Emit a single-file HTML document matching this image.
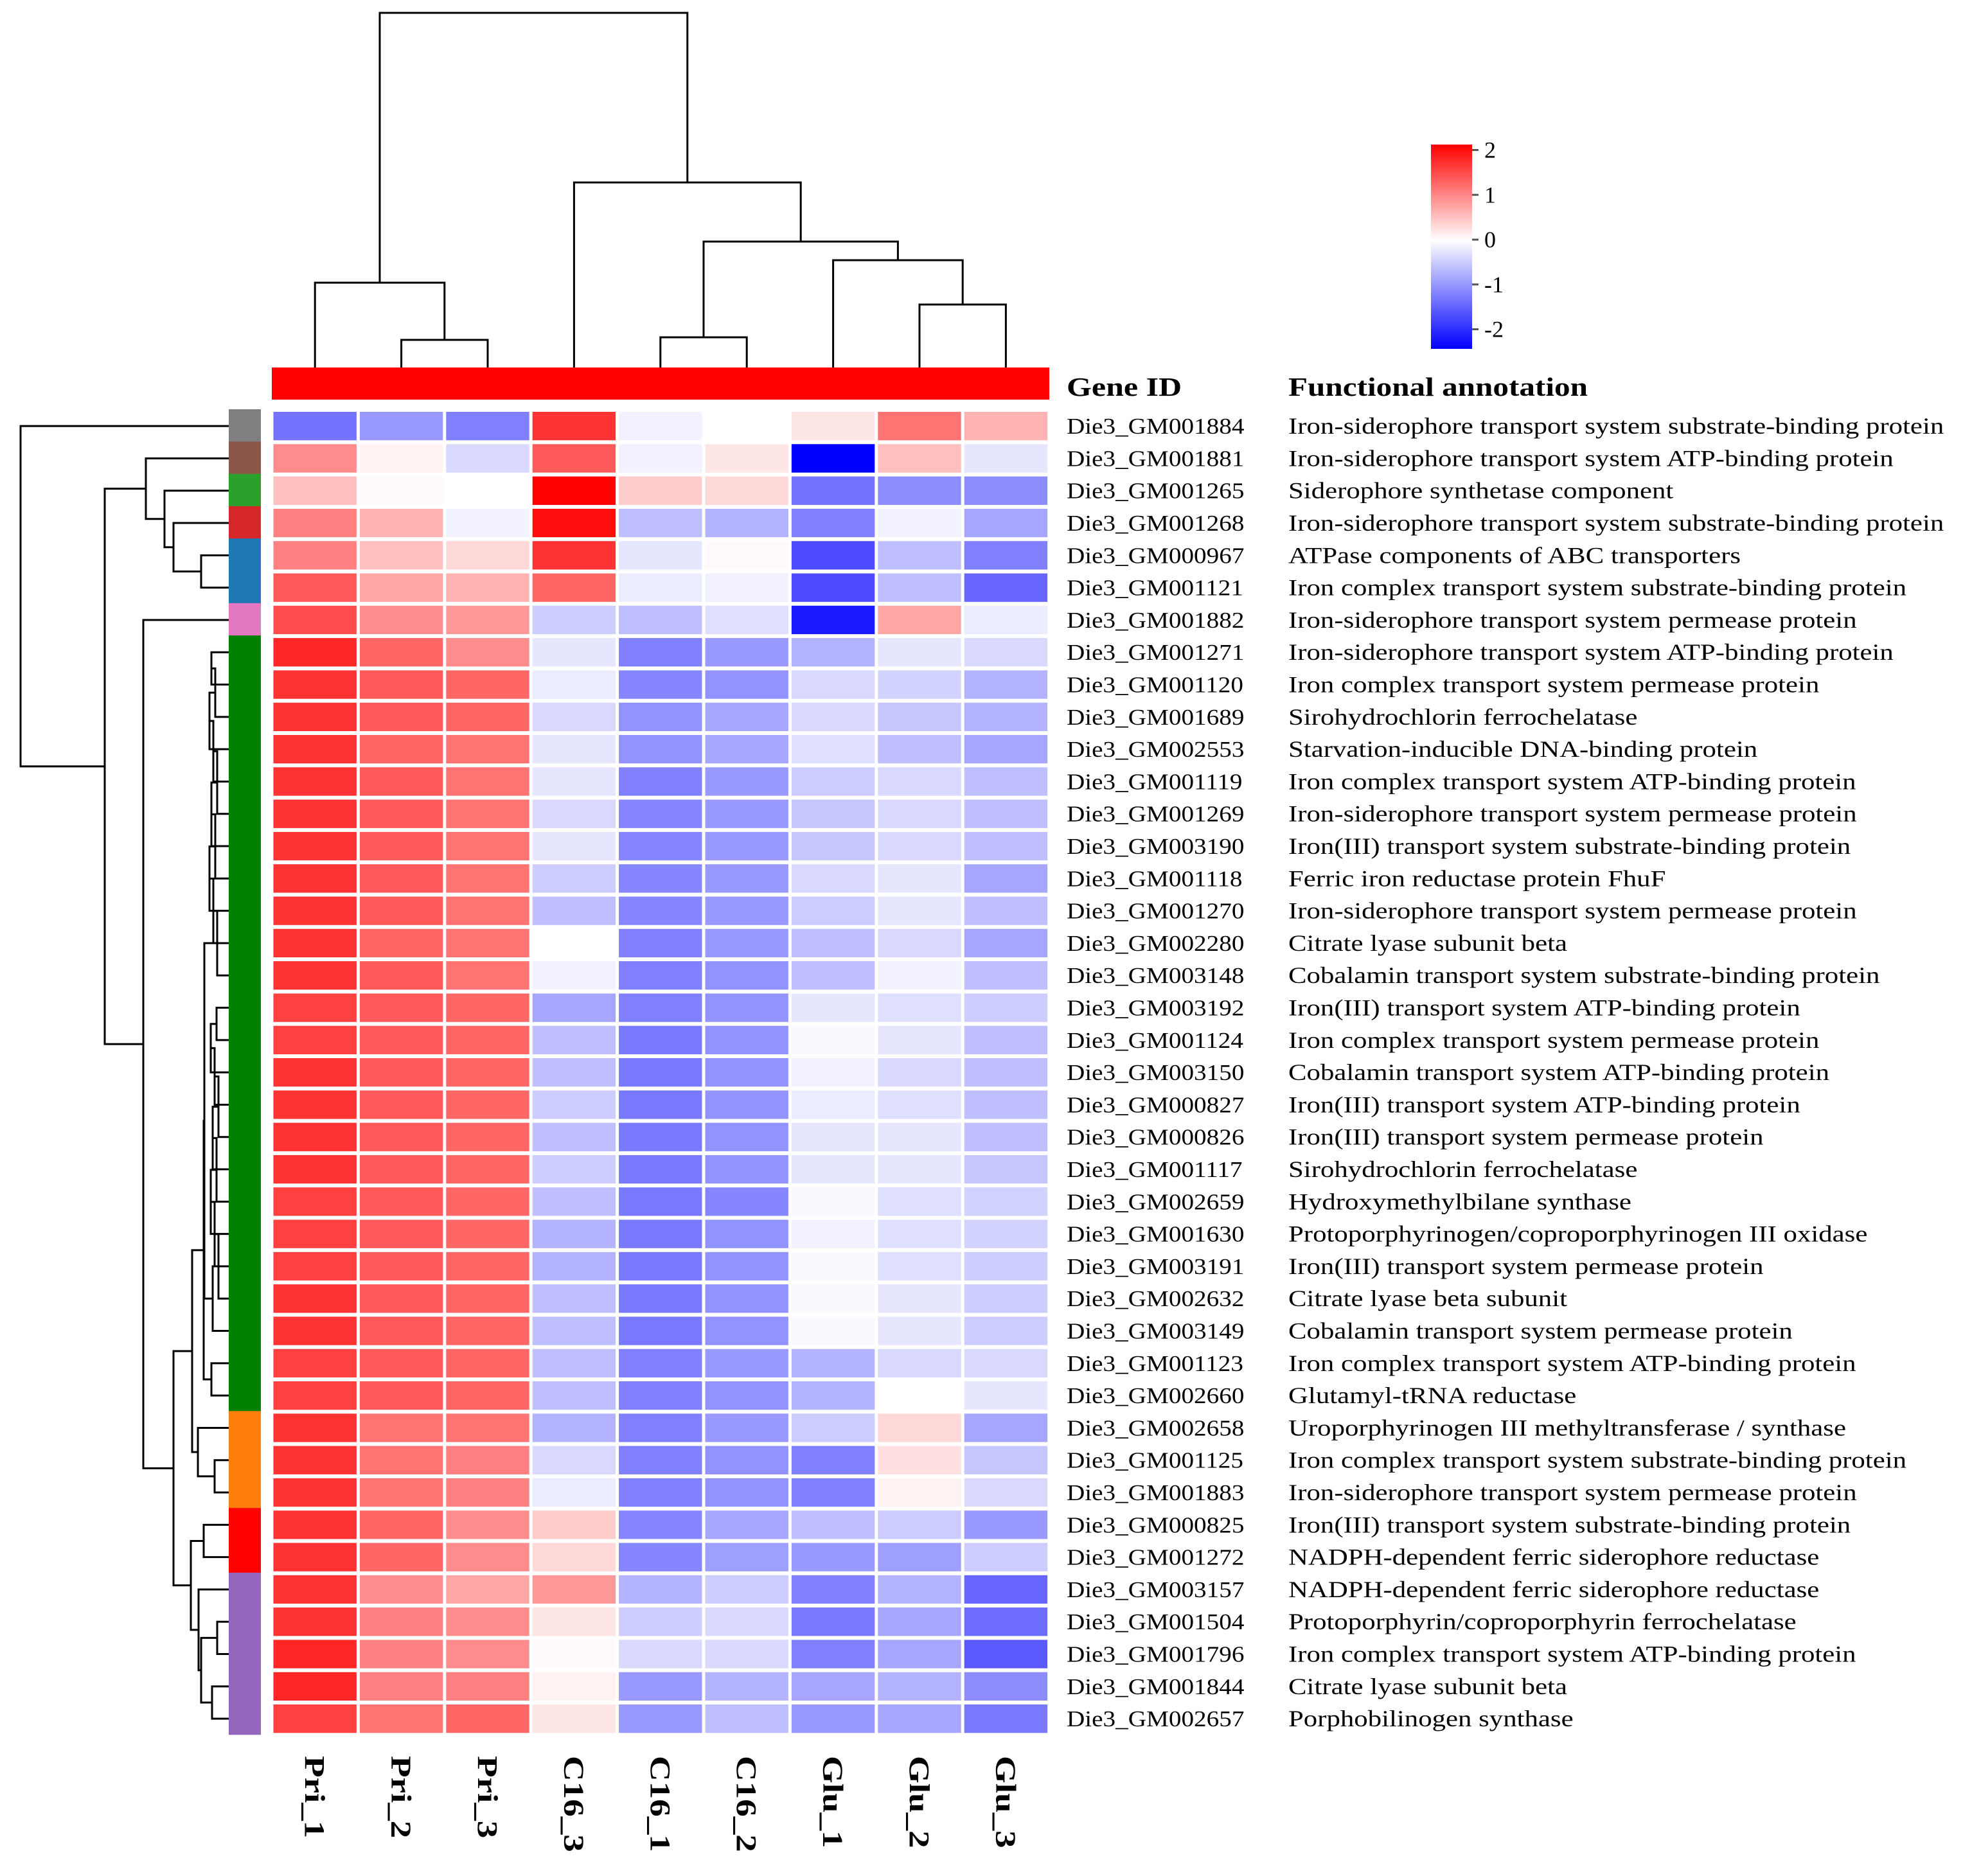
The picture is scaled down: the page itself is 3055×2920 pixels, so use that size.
<!DOCTYPE html>
<html><head><meta charset="utf-8"><style>
html,body{margin:0;padding:0;background:#fff}
svg{display:block}
text{font-family:"Liberation Serif",serif;fill:#000}
</style></head><body>
<svg id="chart" width="3055" height="2920" viewBox="0 0 3055 2920" xmlns="http://www.w3.org/2000/svg">
<g id="dendroTop"></g>
<g id="dendroLeft"></g>
<rect x="423" y="572" width="1210" height="50" fill="#ff0000"/>
<g id="strip"></g>
<g id="cells"></g>
<g id="rowlabels" transform="translate(1660,0) scale(1.12,1) translate(-1660,0)"></g>
<g id="annlabels" transform="translate(2005,0) scale(1.19,1) translate(-2005,0)"></g>
<g id="collabels"></g>
<g transform="translate(1660,0) scale(1.22,1) translate(-1660,0)"><text x="1660" y="616" font-size="41" font-weight="bold">Gene ID</text></g>
<g transform="translate(2005,0) scale(1.2,1) translate(-2005,0)"><text x="2005" y="616" font-size="41" font-weight="bold">Functional annotation</text></g>
<defs><linearGradient id="cbg" x1="0" y1="0" x2="0" y2="1">
<stop offset="0" stop-color="#ff0000"/><stop offset="0.47" stop-color="#ffffff"/><stop offset="1" stop-color="#0000ff"/></linearGradient></defs>
<g>
<rect x="2227" y="225" width="64" height="318" fill="url(#cbg)"/>
<g id="cbticks"></g>
</g>
</svg>
<script>
const columns = ["Pri_1","Pri_2","Pri_3","C16_3","C16_1","C16_2","Glu_1","Glu_2","Glu_3"];
const genes = ["Die3_GM001884","Die3_GM001881","Die3_GM001265","Die3_GM001268","Die3_GM000967","Die3_GM001121","Die3_GM001882","Die3_GM001271","Die3_GM001120","Die3_GM001689","Die3_GM002553","Die3_GM001119","Die3_GM001269","Die3_GM003190","Die3_GM001118","Die3_GM001270","Die3_GM002280","Die3_GM003148","Die3_GM003192","Die3_GM001124","Die3_GM003150","Die3_GM000827","Die3_GM000826","Die3_GM001117","Die3_GM002659","Die3_GM001630","Die3_GM003191","Die3_GM002632","Die3_GM003149","Die3_GM001123","Die3_GM002660","Die3_GM002658","Die3_GM001125","Die3_GM001883","Die3_GM000825","Die3_GM001272","Die3_GM003157","Die3_GM001504","Die3_GM001796","Die3_GM001844","Die3_GM002657"];
const annotations = ["Iron-siderophore transport system substrate-binding protein","Iron-siderophore transport system ATP-binding protein","Siderophore synthetase component","Iron-siderophore transport system substrate-binding protein","ATPase components of ABC transporters","Iron complex transport system substrate-binding protein","Iron-siderophore transport system permease protein","Iron-siderophore transport system ATP-binding protein","Iron complex transport system permease protein","Sirohydrochlorin ferrochelatase","Starvation-inducible DNA-binding protein","Iron complex transport system ATP-binding protein","Iron-siderophore transport system permease protein","Iron(III) transport system substrate-binding protein","Ferric iron reductase protein FhuF","Iron-siderophore transport system permease protein","Citrate lyase subunit beta","Cobalamin transport system substrate-binding protein","Iron(III) transport system ATP-binding protein","Iron complex transport system permease protein","Cobalamin transport system ATP-binding protein","Iron(III) transport system ATP-binding protein","Iron(III) transport system permease protein","Sirohydrochlorin ferrochelatase","Hydroxymethylbilane synthase","Protoporphyrinogen/coproporphyrinogen III oxidase","Iron(III) transport system permease protein","Citrate lyase beta subunit","Cobalamin transport system permease protein","Iron complex transport system ATP-binding protein","Glutamyl-tRNA reductase","Uroporphyrinogen III methyltransferase / synthase","Iron complex transport system substrate-binding protein","Iron-siderophore transport system permease protein","Iron(III) transport system substrate-binding protein","NADPH-dependent ferric siderophore reductase","NADPH-dependent ferric siderophore reductase","Protoporphyrin/coproporphyrin ferrochelatase","Iron complex transport system ATP-binding protein","Citrate lyase subunit beta","Porphobilinogen synthase"];
const values = [
[-1.1,-0.8,-1.0,1.6,-0.1,0,0.2,1.1,0.6],
[0.9,0.1,-0.3,1.3,-0.1,0.2,-2.2,0.5,-0.2],
[0.5,0.05,0,2.0,0.4,0.3,-1.1,-0.9,-0.9],
[1.0,0.6,-0.1,1.9,-0.5,-0.6,-1.0,-0.1,-0.7],
[1.0,0.5,0.3,1.6,-0.2,0.05,-1.4,-0.5,-1.0],
[1.3,0.7,0.6,1.2,-0.15,-0.1,-1.4,-0.5,-1.2],
[1.4,0.9,0.8,-0.4,-0.5,-0.25,-1.8,0.7,-0.15],
[1.7,1.2,0.9,-0.2,-1.0,-0.8,-0.6,-0.2,-0.3],
[1.6,1.3,1.2,-0.15,-0.95,-0.85,-0.3,-0.35,-0.6],
[1.6,1.3,1.2,-0.3,-0.85,-0.7,-0.3,-0.45,-0.6],
[1.6,1.2,1.1,-0.2,-0.85,-0.7,-0.25,-0.5,-0.7],
[1.6,1.3,1.1,-0.2,-1.0,-0.8,-0.4,-0.3,-0.5],
[1.6,1.3,1.1,-0.3,-0.95,-0.8,-0.45,-0.3,-0.5],
[1.6,1.3,1.1,-0.2,-0.95,-0.8,-0.45,-0.3,-0.5],
[1.6,1.3,1.1,-0.4,-0.95,-0.8,-0.3,-0.2,-0.7],
[1.6,1.3,1.1,-0.5,-0.95,-0.8,-0.4,-0.2,-0.5],
[1.6,1.2,1.1,0,-1.0,-0.8,-0.5,-0.3,-0.7],
[1.6,1.3,1.1,-0.1,-1.0,-0.85,-0.5,-0.1,-0.5],
[1.5,1.3,1.2,-0.7,-1.0,-0.85,-0.2,-0.25,-0.4],
[1.5,1.3,1.2,-0.5,-1.05,-0.85,-0.05,-0.2,-0.5],
[1.6,1.3,1.2,-0.5,-1.05,-0.85,-0.1,-0.3,-0.5],
[1.6,1.3,1.2,-0.4,-1.05,-0.85,-0.15,-0.25,-0.5],
[1.6,1.3,1.2,-0.5,-1.05,-0.85,-0.2,-0.2,-0.5],
[1.6,1.3,1.2,-0.4,-1.05,-0.85,-0.2,-0.2,-0.45],
[1.5,1.3,1.2,-0.5,-1.05,-0.95,-0.05,-0.25,-0.35],
[1.5,1.3,1.2,-0.6,-1.05,-0.85,-0.1,-0.25,-0.35],
[1.5,1.3,1.2,-0.6,-1.05,-0.85,-0.05,-0.25,-0.4],
[1.6,1.3,1.2,-0.5,-1.05,-0.85,-0.05,-0.2,-0.4],
[1.6,1.3,1.2,-0.5,-1.05,-0.85,-0.05,-0.2,-0.4],
[1.5,1.3,1.2,-0.5,-1.0,-0.8,-0.6,-0.3,-0.3],
[1.5,1.3,1.2,-0.5,-1.0,-0.85,-0.6,0,-0.2],
[1.6,1.1,1.1,-0.6,-1.0,-0.8,-0.4,0.3,-0.7],
[1.6,1.1,1.0,-0.3,-1.0,-0.85,-1.0,0.25,-0.45],
[1.6,1.1,1.0,-0.15,-1.0,-0.85,-1.0,0.1,-0.3],
[1.6,1.2,0.9,0.4,-0.95,-0.7,-0.5,-0.4,-0.8],
[1.6,1.2,0.9,0.3,-0.95,-0.75,-0.8,-0.75,-0.4],
[1.6,0.9,0.7,0.8,-0.6,-0.4,-1.0,-0.6,-1.2],
[1.6,1.0,0.9,0.2,-0.4,-0.3,-1.05,-0.7,-1.15],
[1.7,1.0,0.9,0.05,-0.3,-0.3,-1.0,-0.7,-1.3],
[1.7,1.0,1.0,0.1,-0.8,-0.6,-0.7,-0.6,-0.9],
[1.5,1.1,1.2,0.2,-0.8,-0.5,-0.8,-0.7,-1.05]];
const clusterColors = ["#7f7f7f","#8c564b","#2ca02c","#d62728","#1f77b4","#1f77b4","#e377c2"].concat(Array(24).fill("#008000"),Array(3).fill("#ff7f0e"),Array(2).fill("#ff0000"),Array(5).fill("#9467bd"));
const cbTicks = [2,1,0,-1,-2];
// dendrogram trees: [height, left, right], leaves = index
const colTree = [20,[440,0,[529,1,2]],[284,3,[376,[525,4,5],[405,6,[474,7,8]]]]];
function chain(a,b,h){let t=a;for(let i=a+1;i<=b;i++){t=[h+((i*7)%5)*3,t,i];}return t;}
const rowTree = [32,0,[163,[227,1,[256,2,[270,3,[313,4,5]]]],[223,6,[270,
  [299,[317,[318,chain(7,17,326),chain(18,28,328)],[329,29,30]],[308,31,[334,32,33]]],
  [297,[317,34,35],[309,36,[313,[338,37,38],[330,39,40]]]]]]]];

const NS="http://www.w3.org/2000/svg";
const X0=423, Y0=638, CW=134.4, RH=50.3;
const xScale=i=>X0+i*CW, yScale=j=>Y0+j*RH;
const cbY=v=>373-v*69.75;
function color(v){const t=Math.min(1,Math.abs(v)/2);const c=Math.round(255*(1-t));return v>=0?`rgb(255,${c},${c})`:`rgb(${c},${c},255)`;}
function mk(tag,attrs,parent){const e=document.createElementNS(NS,tag);for(const k in attrs)e.setAttribute(k,attrs[k]);parent.appendChild(e);return e;}

const cells=document.getElementById('cells');
values.forEach((row,j)=>row.forEach((v,i)=>{
  const r=mk('rect',{x:xScale(i)+2.5,y:yScale(j)+3,width:CW-5,height:RH-6,fill:color(v)},cells);
  
  
}));
const strip=document.getElementById('strip');
clusterColors.forEach((c,j)=>{
  const r=mk('rect',{x:356,y:yScale(j)-1,width:50,height:RH+1,fill:c},strip);
  
  
});
const rl=document.getElementById('rowlabels'), al=document.getElementById('annlabels');
genes.forEach((g,j)=>{
  const t=mk('text',{x:1660,y:yScale(j)+RH/2+12,'font-size':35},rl);t.textContent=g;
  
  
  const a=mk('text',{x:2005,y:yScale(j)+RH/2+12,'font-size':36},al);a.textContent=annotations[j];
  
  
});
const cl=document.getElementById('collabels');
columns.forEach((c,i)=>{
  const cx=xScale(i)+CW/2-15;
  const t=mk('text',{x:0,y:0,'font-size':44,'font-weight':'bold',transform:`translate(${cx},2733) rotate(90) scale(1.25,1)`},cl);
  t.textContent=c;
  
  
});
const cbt=document.getElementById('cbticks');
cbTicks.forEach(v=>{
  const l=mk('line',{x1:2291,x2:2301,y1:cbY(v),y2:cbY(v),stroke:'#555','stroke-width':3},cbt);
  
  
  const t=mk('text',{x:2310,y:cbY(v)+12,'font-size':36},cbt);t.textContent=v;
  
  
});
function drawTree(node,g,vertical){
  if(typeof node==='number'){
    return vertical?[xScale(node)+CW/2,572]:[yScale(node)+RH/2,356];
  }
  const [h,a,b]=node;const A=drawTree(a,g,vertical),B=drawTree(b,g,vertical);
  let d;
  if(vertical) d=`M${A[0]},${A[1]}V${h}H${B[0]}V${B[1]}`;
  else d=`M${A[1]},${A[0]}H${h}V${B[0]}H${B[1]}`;
  const p=mk('path',{d:d,fill:'none',stroke:'#000','stroke-width':3},g);
  
  
  return [(A[0]+B[0])/2,h];
}
drawTree(colTree,document.getElementById('dendroTop'),true);
drawTree(rowTree,document.getElementById('dendroLeft'),false);
</script>
</body></html>
